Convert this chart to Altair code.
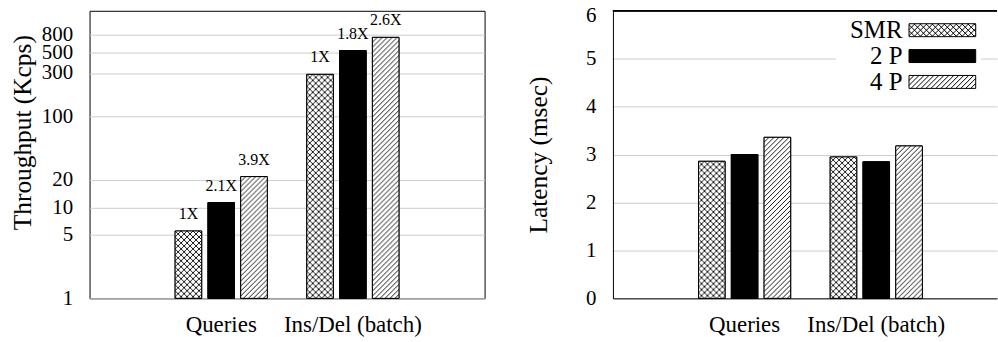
import altair as alt
import pandas as pd
from urllib.parse import quote

# ---------------- data ----------------
groups = ["Queries", "Ins/Del (batch)"]
series = ["SMR", "2 P", "4 P"]

throughput_smr = [5.5, 290]
throughput_2p = [11.3, 530]
throughput_4p = [21.8, 740]

speedup_smr = ["1X", "1X"]
speedup_2p = ["2.1X", "1.8X"]
speedup_4p = ["3.9X", "2.6X"]

latency_smr = [2.86, 2.95]
latency_2p = [3.0, 2.85]
latency_4p = [3.36, 3.18]

thr_ticks = [1, 5, 10, 20, 100, 300, 500, 800]
lat_ticks = [0, 1, 2, 3, 4, 5, 6]

# ---------------- styles ----------------
FONT = "Liberation Serif"
GRID = "#cccccc"


def pattern_uri(tile, d):
    svg = (
        "<svg xmlns='http://www.w3.org/2000/svg' width='100%' height='100%'>"
        f"<defs><pattern id='h' width='{tile}' height='{tile}' patternUnits='userSpaceOnUse'>"
        f"<path d='{d}' stroke='black' stroke-width='0.9' fill='none'/></pattern></defs>"
        "<rect width='100%' height='100%' fill='white'/>"
        "<rect width='100%' height='100%' fill='url(#h)'/></svg>"
    )
    return "data:image/svg+xml;charset=utf-8," + quote(svg)


cross_uri = pattern_uri(6, "M0,0L6,6M6,0L0,6")
diag_uri = pattern_uri(5, "M0,5L5,0M-1,1L1,-1M4,6L6,4")
patterns = {"SMR": cross_uri, "2 P": "", "4 P": diag_uri}

# legend symbol paths: unit = half symbol height (6.5 px); shifted right of centre
HALF_W, HALF_H = 33.5 / 6.5, 1.0
SHIFT = 14.09


def seg_paths(step, direction):
    out = []
    c = -HALF_W - HALF_H
    while c <= HALF_W + HALF_H:
        x0 = max(-HALF_W, c - HALF_H)
        x1 = min(HALF_W, c + HALF_H)
        if x1 > x0:
            if direction == "/":
                out.append(f"M{x0 + SHIFT:.3f},{c - x0:.3f}L{x1 + SHIFT:.3f},{c - x1:.3f}")
            else:
                out.append(f"M{x0 + SHIFT:.3f},{x0 - c:.3f}L{x1 + SHIFT:.3f},{x1 - c:.3f}")
        c += step
    return "".join(out)


rect_path = (f"M{-HALF_W + SHIFT:.3f},{-HALF_H}H{HALF_W + SHIFT:.3f}"
             f"V{HALF_H}H{-HALF_W + SHIFT:.3f}Z")
cross_path = rect_path + seg_paths(6 / 6.5, "/") + seg_paths(6 / 6.5, "\\")
diag_path = rect_path + seg_paths(5 / 6.5, "/")
shape_range = [cross_path, rect_path, diag_path]
fill_range = ["white", "black", "white"]

# ---------------- tables ----------------
thr = {"SMR": throughput_smr, "2 P": throughput_2p, "4 P": throughput_4p}
spd = {"SMR": speedup_smr, "2 P": speedup_2p, "4 P": speedup_4p}
lat = {"SMR": latency_smr, "2 P": latency_2p, "4 P": latency_4p}

rows_t, rows_l = [], []
for gi, g in enumerate(groups):
    for s in series:
        rows_t.append({"group": g, "series": s, "value": thr[s][gi], "label": spd[s][gi],
                       "img": patterns[s]})
        rows_l.append({"group": g, "series": s, "value": lat[s][gi], "img": patterns[s]})
df_t = pd.DataFrame(rows_t)
df_l = pd.DataFrame(rows_l)

W_LEFT, W_RIGHT, H = 397, 386, 289
STEP = W_LEFT / 3.0


def x_enc(domain_line, width):
    po = (width / STEP - 1.7) / 2
    align = 86.0 / (width - STEP * 1.7)
    return alt.X(
        "group:N", sort=groups,
        scale=alt.Scale(domain=groups, paddingInner=0.3, paddingOuter=po, align=align),
        axis=alt.Axis(title=None, labelAngle=0, ticks=False, domain=domain_line,
                      domainColor="black", domainWidth=1, labelFontSize=23,
                      labelPadding=15, labelFont=FONT, labelColor="black"),
    )


xo = alt.XOffset("series:N", sort=series,
                 scale=alt.Scale(domain=series, paddingInner=0.19, paddingOuter=0))

fill_scale = alt.Scale(domain=series, range=fill_range)
shape_scale = alt.Scale(domain=series, range=shape_range)
stroke_scale = alt.Scale(domain=series, range=["black", "black", "black"])


def y_axis(title, values, fmt, domain_line, title_pad, label_offset=0, title_y=None):
    kw = {}
    if title_y is not None:
        kw["titleY"] = title_y
    return alt.Axis(values=values, format=fmt, title=title, grid=True, gridColor=GRID,
                    domain=domain_line, domainColor="black", ticks=False,
                    labelPadding=17, labelFontSize=21, titleFontSize=25.5,
                    titlePadding=title_pad, titleLimit=500, labelFont=FONT,
                    titleFont=FONT, labelColor="black", titleColor="black",
                    titleFontWeight="normal", labelOverlap=False,
                    labelOffset=label_offset, **kw)


y_left = alt.Y("value:Q", scale=alt.Scale(type="log", domain=[1, 1450], nice=False),
               axis=y_axis("Throughput (Kcps)", thr_ticks, "d", False, 6, title_y=122))
y_right = alt.Y("value:Q", scale=alt.Scale(domain=[0, 6], nice=False),
                axis=y_axis("Latency (msec)", lat_ticks, "d", True, 34,
                            {"condition": {"test": "datum.value == 6", "value": 5},
                             "value": 0}))

legend = alt.Legend(title=None, orient="none", legendX=224, legendY=4,
                    fillColor="white", padding=3, labelOffset=39, labelAlign="right",
                    labelBaseline="middle", labelFont=FONT, labelFontSize=25,
                    labelColor="black", symbolSize=169, symbolStrokeWidth=1,
                    rowPadding=0)


def layers(df, y_enc, width, domain_line, base_val, leg):
    base = alt.Chart(df)
    xe = x_enc(domain_line, width)
    bars = base.mark_bar(stroke="black", strokeWidth=1).encode(
        x=xe, xOffset=xo, y=y_enc, y2=alt.datum(base_val),
        fill=alt.Fill("series:N", sort=series, scale=fill_scale, legend=leg),
    )
    imgs = base.transform_filter("datum.img != ''").mark_image(aspect=False).encode(
        x=xe, xOffset=xo, y=y_enc, y2=alt.datum(base_val), url="img:N",
    )
    outline = base.mark_bar(stroke="black", strokeWidth=1, fillOpacity=0).encode(
        x=xe, xOffset=xo, y=y_enc, y2=alt.datum(base_val),
    )
    return [bars, imgs, outline]


left_layers = layers(df_t, y_left, W_LEFT, False, 1, None)
labels = alt.Chart(df_t).mark_text(font=FONT, fontSize=16, baseline="alphabetic",
                                   dy=-12, color="black").encode(
    x=x_enc(False, W_LEFT), xOffset=xo, y=alt.Y("value:Q"), text="label:N",
)
left = alt.layer(*left_layers, labels).properties(
    width=W_LEFT, height=H,
    view=alt.ViewBackground(stroke="black", strokeWidth=1),
)

right_layers = layers(df_l, y_right, W_RIGHT, True, 0, legend)
top_line = alt.Chart(df_l).mark_rule(color="black", strokeWidth=1).encode(y=alt.datum(6))
legend_layer = alt.Chart(df_l).mark_point(filled=True, opacity=0, strokeWidth=1).encode(
    fill=alt.Fill("series:N", sort=series, scale=fill_scale, legend=legend),
    shape=alt.Shape("series:N", sort=series, scale=shape_scale, legend=legend),
    stroke=alt.Stroke("series:N", sort=series, scale=stroke_scale, legend=legend),
)
right = alt.layer(*right_layers, top_line, legend_layer).properties(
    width=W_RIGHT, height=H,
    view=alt.ViewBackground(stroke="transparent"),
)

chart = alt.hconcat(left, right, spacing=41).properties(
    padding={"left": 10, "top": 3, "right": 0, "bottom": 0}
).resolve_scale(fill="independent", shape="independent", stroke="independent").configure(
    font=FONT
).configure_view(stroke="black").configure_legend(symbolOpacity=1)

chart.save("out.html", embed_options={"renderer": "svg", "actions": False})
